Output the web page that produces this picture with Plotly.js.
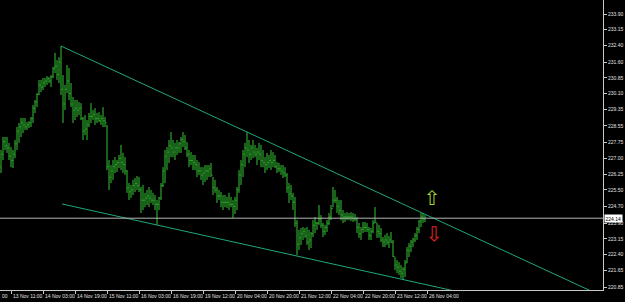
<!DOCTYPE html>
<html>
<head>
<meta charset="utf-8">
<script src="https://cdn.plot.ly/plotly-3.0.1.min.js"></script>
<style>html,body{margin:0;padding:0;background:#000;}#chart{width:625px;height:302px;}</style>
</head>
<body>
<div id="chart"></div>
<script>
// Hourly bars, 13 Nov 06:00 .. 26 Nov 03:00 (bar sequence index used on the x axis)
const openP = [
226.60,227.20,227.80,227.60,227.50,227.10,226.90,227.20,227.70,228.30,
228.50,228.70,228.60,228.50,228.60,228.70,228.90,229.40,229.70,230.05,
230.50,230.40,230.60,230.70,230.80,230.70,230.90,231.30,231.40,231.00,
231.60,230.30,229.60,230.30,230.70,230.10,229.60,229.30,229.40,229.30,
229.40,228.90,228.30,228.40,228.60,229.00,229.00,229.10,228.90,228.90,
228.80,228.90,228.80,228.70,226.60,226.10,226.40,226.60,226.70,226.80,
227.00,226.80,226.70,226.40,225.60,225.40,225.50,225.70,225.80,225.70,
225.50,225.00,225.00,225.10,225.20,225.10,225.00,225.00,224.80,224.80,
225.10,225.70,226.40,227.10,227.30,227.60,227.50,227.30,227.50,227.50,
227.70,227.90,227.80,227.50,227.20,226.90,226.90,226.80,226.70,226.40,
226.40,226.20,226.30,226.40,226.40,226.50,226.20,225.60,225.50,225.20,
225.20,224.90,224.90,224.90,224.90,224.80,224.80,224.70,225.00,225.50,
226.20,226.70,227.20,227.50,227.40,227.20,227.50,227.30,227.20,227.30,
227.20,226.90,226.80,226.70,226.80,226.90,226.80,226.90,226.60,226.50,
226.50,226.40,226.30,226.20,225.60,225.30,225.20,224.90,223.90,222.90,
223.20,223.40,223.50,223.30,223.00,223.10,223.40,223.80,223.90,223.90,
224.10,223.80,223.50,223.70,223.90,224.20,224.60,225.00,225.00,224.70,
224.50,224.30,224.20,224.20,224.20,224.20,224.20,224.10,224.10,223.70,
223.40,223.60,223.70,223.70,223.60,223.30,223.50,223.90,223.95,223.50,
223.40,223.10,223.00,223.10,223.00,223.10,223.00,222.30,221.90,221.80,
221.60,221.50,221.70,222.00,222.60,222.80,223.00,223.10,223.30,223.60,
224.00,224.20,224.10];

const highP = [
227.40,228.02,228.02,228.02,227.74,227.54,227.40,227.88,228.50,228.69,
228.93,228.93,228.93,228.74,228.78,228.98,229.55,229.79,230.12,230.75,
230.75,230.84,230.84,230.93,230.89,230.98,231.37,232.04,231.70,231.84,
232.37,230.98,230.51,231.46,231.32,230.60,229.93,229.79,229.79,229.69,
229.64,228.98,229.07,228.83,229.17,229.64,229.31,229.40,229.17,229.21,
229.07,229.45,228.98,228.60,226.92,226.68,226.92,227.06,226.92,227.16,
227.64,227.26,227.06,226.44,225.82,225.73,225.97,226.06,226.16,226.11,
225.63,225.73,225.35,225.49,225.63,225.49,225.35,225.25,225.01,225.16,
225.82,226.58,227.40,227.54,227.88,228.26,227.88,227.74,227.88,227.78,
228.02,228.26,228.12,227.78,227.40,227.30,227.16,227.16,226.92,226.82,
226.58,226.58,226.68,226.68,226.68,226.78,226.11,225.97,225.63,225.49,
225.39,225.25,225.25,225.16,225.35,225.16,225.01,225.16,225.63,226.44,
226.92,227.40,227.74,228.26,227.88,227.64,227.88,227.64,227.50,227.74,
227.64,227.40,227.06,227.26,227.16,227.40,227.30,227.16,226.82,226.78,
226.68,226.68,226.58,226.30,225.82,225.73,225.35,225.16,224.05,223.58,
223.67,223.72,223.67,223.72,223.58,223.48,224.05,224.20,223.96,224.77,
224.29,223.91,223.82,224.05,224.39,224.77,225.63,225.49,225.16,225.01,
225.01,224.53,224.39,224.43,224.39,224.43,224.39,224.34,224.20,223.91,
223.72,223.96,223.96,223.91,223.72,223.67,224.05,224.67,223.91,223.82,
223.67,223.24,223.34,223.43,223.29,223.48,223.10,222.28,222.14,222.04,
221.90,221.80,222.14,222.76,222.95,223.10,223.20,223.43,223.72,224.05,
224.39,224.39,224.29];

const lowP = [
226.30,226.92,227.40,227.26,226.92,226.58,226.54,227.01,227.40,227.74,
228.02,228.21,228.36,228.36,228.45,228.50,228.69,229.17,229.45,230.03,
230.17,230.27,230.41,230.51,230.60,230.41,230.84,231.08,230.75,230.60,
230.03,228.69,229.31,230.12,229.79,229.45,228.69,228.83,228.98,229.07,
228.83,227.88,228.12,227.88,228.50,228.69,228.83,228.60,228.69,228.74,
228.60,228.50,228.50,226.44,225.49,225.82,225.97,226.30,226.35,226.54,
226.44,226.30,226.21,225.35,225.01,225.11,225.25,225.39,225.49,225.39,
224.39,224.53,224.67,224.77,224.67,224.87,224.77,224.53,223.82,224.53,
225.01,225.63,225.82,226.44,226.78,227.06,227.06,226.92,227.16,227.26,
227.26,227.54,227.40,227.06,226.58,226.68,226.44,226.44,226.11,226.21,
225.97,225.73,225.87,225.97,226.11,226.11,225.25,225.35,224.87,225.01,
224.67,224.53,224.67,224.63,224.53,224.67,224.15,224.34,224.53,225.35,
225.73,226.11,226.58,227.06,226.78,226.92,227.01,227.06,226.68,226.92,
226.58,226.58,226.30,226.44,226.54,226.44,226.58,226.54,226.30,226.35,
226.21,226.06,226.11,225.35,224.87,225.01,224.53,223.72,222.38,222.62,
222.86,223.10,223.20,222.86,222.62,222.71,223.24,223.43,223.58,223.82,
223.67,223.24,223.34,223.48,223.82,224.05,224.67,224.87,224.39,224.29,
224.05,223.91,223.96,224.05,224.05,224.00,223.96,224.00,223.43,223.20,
223.10,223.43,223.48,223.48,223.10,223.10,223.43,223.91,223.20,223.20,
223.00,222.76,222.76,222.86,222.71,222.95,222.28,221.66,221.52,221.43,
221.28,221.19,221.33,222.00,222.28,222.52,222.76,223.00,223.10,223.43,
223.72,223.91,223.96];

const closeP = [
227.20,227.80,227.60,227.50,227.10,226.90,227.20,227.70,228.30,228.50,
228.70,228.60,228.50,228.60,228.70,228.90,229.40,229.70,230.05,230.50,
230.40,230.60,230.70,230.80,230.70,230.90,231.30,231.40,231.00,231.60,
230.30,229.60,230.30,230.70,230.10,229.60,229.30,229.40,229.30,229.40,
228.90,228.30,228.40,228.60,229.00,229.00,229.10,228.90,228.90,228.80,
228.90,228.80,228.70,226.60,226.10,226.40,226.60,226.70,226.80,227.00,
226.80,226.70,226.40,225.60,225.40,225.50,225.70,225.80,225.70,225.50,
225.00,225.00,225.10,225.20,225.10,225.00,225.00,224.80,224.80,225.10,
225.70,226.40,227.10,227.30,227.60,227.50,227.30,227.50,227.50,227.70,
227.90,227.80,227.50,227.20,226.90,226.90,226.80,226.70,226.40,226.40,
226.20,226.30,226.40,226.40,226.50,226.20,225.60,225.50,225.20,225.20,
224.90,224.90,224.90,224.90,224.80,224.80,224.70,225.00,225.50,226.20,
226.70,227.20,227.50,227.40,227.20,227.50,227.30,227.20,227.30,227.20,
226.90,226.80,226.70,226.80,226.90,226.80,226.90,226.60,226.50,226.50,
226.40,226.30,226.20,225.60,225.30,225.20,224.90,223.90,222.90,223.20,
223.40,223.50,223.30,223.00,223.10,223.40,223.80,223.90,223.90,224.10,
223.80,223.50,223.70,223.90,224.20,224.60,225.00,225.00,224.70,224.50,
224.30,224.20,224.20,224.20,224.20,224.20,224.10,224.10,223.70,223.40,
223.60,223.70,223.70,223.60,223.30,223.50,223.90,223.95,223.50,223.40,
223.10,223.00,223.10,223.00,223.10,223.00,222.30,221.90,221.80,221.60,
221.50,221.70,222.00,222.60,222.80,223.00,223.10,223.30,223.60,224.00,
224.20,224.10,224.14];

// Time-axis labels (bar index -> label)
const timeTickBars = [5,21,37,53,69,85,101,117,133,149,165,181,197,213];
const timeTickLabels = ["13 Nov 11:00","14 Nov 03:00","14 Nov 19:00","15 Nov 11:00","16 Nov 03:00",
  "16 Nov 19:00","19 Nov 12:00","20 Nov 04:00","20 Nov 20:00","21 Nov 12:00","22 Nov 04:00",
  "22 Nov 20:00","23 Nov 12:00","26 Nov 04:00"];
const firstPartialLabel = "00";   // visible tail of the previous time label at the left edge

// Price scale labels
const priceTicks = [233.90,233.15,232.40,231.60,230.85,230.10,229.35,228.55,227.75,227.00,
  226.25,225.50,224.70,223.90,223.15,222.40,221.65,220.85];

// Trend lines (bar index, price)
const upperTrendBars = [30, 123, 300];
const upperTrendPrices = [232.37, 228.26, 220.44];
const lowerTrendBars = [30.5, 250];
const lowerTrendPrices = [224.82, 220.17];

// Current price and signal arrows
const lastPrice = 224.14;
const signalBars = [215.5, 216.5];
const signalPrices = [225.01, 223.30];
const signalText = ["\u21E7", "\u21E9"];
const signalColors = ["#a6d428", "#e02424"];

const barIndex = closeP.map((_, i) => i);
const FONT = "Liberation Sans, Arial, sans-serif";
const LABEL_FONT = {family: FONT, size: 5, color: "#e0e0e0"};

const traces = [
  {
    type: "ohlc", x: barIndex, open: openP, high: highP, low: lowP, close: closeP,
    increasing: {line: {color: "#34c434", width: 1}},
    decreasing: {line: {color: "#34c434", width: 1}},
    tickwidth: 0.3, hoverinfo: "skip"
  },
  {
    type: "scatter", mode: "lines", x: upperTrendBars, y: upperTrendPrices,
    line: {color: "#1fa878", width: 1}, hoverinfo: "skip"
  },
  {
    type: "scatter", mode: "lines", x: lowerTrendBars, y: lowerTrendPrices,
    line: {color: "#1fa878", width: 1}, hoverinfo: "skip"
  },
  {
    type: "scatter", mode: "text", x: signalBars, y: signalPrices, text: signalText,
    textfont: {size: 20, color: signalColors, family: "DejaVu Sans"},
    textposition: "middle center", cliponaxis: false, hoverinfo: "skip"
  }
];

const timeAnnotations = timeTickBars.map((b, i) => ({
  xref: "x", x: b, xanchor: "left", xshift: -0.5,
  yref: "paper", y: 0, yanchor: "top", yshift: -1,
  text: timeTickLabels[i], showarrow: false, font: LABEL_FONT
}));

const layout = {
  width: 625, height: 302,
  margin: {l: 0, r: 22, t: 0, b: 12, pad: 0},
  paper_bgcolor: "#000", plot_bgcolor: "#000",
  showlegend: false,
  font: {family: FONT, color: "#e0e0e0", size: 5},
  xaxis: {
    range: [-0.5, 301], showgrid: false, zeroline: false,
    showline: true, linecolor: "#c8c8c8", linewidth: 1,
    ticks: "outside", ticklen: 3, tickcolor: "#c8c8c8", tickwidth: 1,
    tickmode: "array", tickvals: timeTickBars, showticklabels: false,
    rangeslider: {visible: false}, fixedrange: true
  },
  yaxis: {
    side: "right", range: [220.708, 234.57], showgrid: false, zeroline: false,
    showline: true, linecolor: "#c8c8c8", linewidth: 1,
    ticks: "outside", ticklen: 3, tickcolor: "#c8c8c8", tickwidth: 1,
    tickmode: "array", tickvals: priceTicks, tickformat: ".2f",
    tickfont: LABEL_FONT, fixedrange: true
  },
  shapes: [
    {type: "line", xref: "paper", x0: 0, x1: 1, yref: "y", y0: lastPrice, y1: lastPrice,
     line: {color: "#b4b4b4", width: 1}}
  ],
  annotations: timeAnnotations.concat([
    {xref: "paper", x: 1, xanchor: "left", xshift: 1, yref: "y", y: lastPrice, yanchor: "middle",
     text: lastPrice.toFixed(2), showarrow: false, bgcolor: "#ffffff", borderpad: 0.5,
     font: {family: FONT, size: 5, color: "#000"}},
    {xref: "paper", x: 0, xanchor: "left", yref: "paper", y: 0, yanchor: "top", yshift: -1,
     text: firstPartialLabel, showarrow: false, font: LABEL_FONT}
  ])
};

Plotly.newPlot("chart", traces, layout, {staticPlot: true, displayModeBar: false});
</script>
</body>
</html>
